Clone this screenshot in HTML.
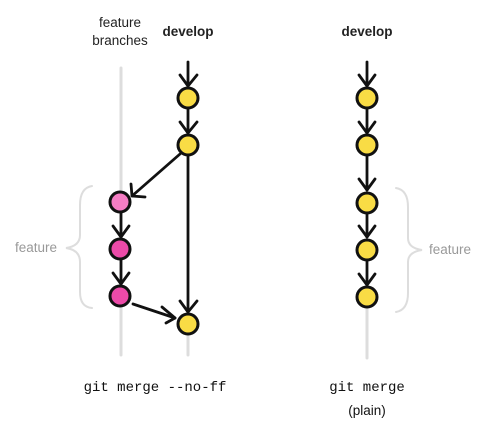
<!DOCTYPE html>
<html><head><meta charset="utf-8"><style>
html,body{margin:0;padding:0;background:#fff;width:503px;height:431px;overflow:hidden}
svg{display:block}
.s{font-family:"Liberation Sans",sans-serif}
.m{font-family:"Liberation Mono","DejaVu Sans Mono",monospace}
</style></head><body>
<svg width="503" height="431" viewBox="0 0 503 431" xmlns="http://www.w3.org/2000/svg">
<g stroke="#ddd" stroke-width="3" fill="none" stroke-linecap="round">
<line x1="121" y1="68" x2="121" y2="355"/>
<line x1="188" y1="330" x2="188" y2="355"/>
<line x1="367" y1="300" x2="367" y2="358"/>
<path d="M92 186 Q80 188 80 205 L80 235 Q80 246 66 248 Q80 250 80 262 L80 292 Q80 307 92 308" stroke-width="2"/>
<path d="M396 188 Q408 190 408 207 L408 238 Q408 248 422 250 Q408 252 408 262 L408 293 Q408 310 396 312" stroke-width="2"/>
</g>
<text x="36" y="252" class="s" font-size="13.5" fill="#999" text-anchor="middle">feature</text>
<text x="450" y="254" class="s" font-size="13.5" fill="#999" text-anchor="middle">feature</text>
<text x="120" y="27" class="s" font-size="13.5" fill="#222" text-anchor="middle">feature</text>
<text x="120" y="45" class="s" font-size="13.5" fill="#222" text-anchor="middle">branches</text>
<text x="188" y="36" class="s" font-size="13.5" font-weight="bold" fill="#222" text-anchor="middle">develop</text>
<text x="367" y="36" class="s" font-size="13.5" font-weight="bold" fill="#222" text-anchor="middle">develop</text>
<text x="155" y="391" class="m" font-size="14" fill="#111" text-anchor="middle">git merge --no-ff</text>
<text x="367" y="391" class="m" font-size="14" fill="#111" text-anchor="middle">git merge</text>
<text x="367" y="415" class="s" font-size="13.5" fill="#111" text-anchor="middle">(plain)</text>
<g stroke="#111" stroke-width="2.8" fill="none" stroke-linecap="round" stroke-linejoin="round">
<line x1="188" y1="62" x2="188" y2="86"/><path d="M180 75 L188 86 L197 75"/>
<line x1="188" y1="108" x2="188" y2="133"/><path d="M180 122 L188 133 L197 122"/>
<line x1="188" y1="155" x2="188" y2="312"/><path d="M180 301 L188 312 L197 301"/>
<line x1="180" y1="154" x2="132" y2="196"/><path d="M131 184 L132 196 L145 197"/>
<line x1="121" y1="212" x2="121" y2="237"/><path d="M113 226 L121 237 L129 226"/>
<line x1="121" y1="259" x2="121" y2="284"/><path d="M113 273 L121 284 L129 273"/>
<line x1="133" y1="304" x2="175" y2="318"/><path d="M162 307 L175 318 L166 323"/>
<line x1="367" y1="62" x2="367" y2="86"/><path d="M359 75 L367 86 L375 75"/>
<line x1="367" y1="108" x2="367" y2="133"/><path d="M359 122 L367 133 L375 122"/>
<line x1="367" y1="155" x2="367" y2="190"/><path d="M359 179 L367 190 L375 179"/>
<line x1="367" y1="213" x2="367" y2="237"/><path d="M359 226 L367 237 L375 226"/>
<line x1="367" y1="260" x2="367" y2="285"/><path d="M359 274 L367 285 L375 274"/>
</g>
<g stroke="#111" stroke-width="3">
<circle cx="188" cy="98" r="10" fill="#f9dc45"/>
<circle cx="188" cy="145" r="10" fill="#f9dc45"/>
<circle cx="188" cy="324" r="10" fill="#f9dc45"/>
<circle cx="120" cy="202" r="10" fill="#f57dc4"/>
<circle cx="120" cy="249" r="10" fill="#ec4aa8"/>
<circle cx="120" cy="296" r="10" fill="#ec4aa8"/>
<circle cx="367" cy="98" r="10" fill="#f9dc45"/>
<circle cx="367" cy="145" r="10" fill="#f9dc45"/>
<circle cx="367" cy="203" r="10" fill="#f9dc45"/>
<circle cx="367" cy="250" r="10" fill="#f9dc45"/>
<circle cx="367" cy="297" r="10" fill="#f9dc45"/>
</g>
</svg>
</body></html>
